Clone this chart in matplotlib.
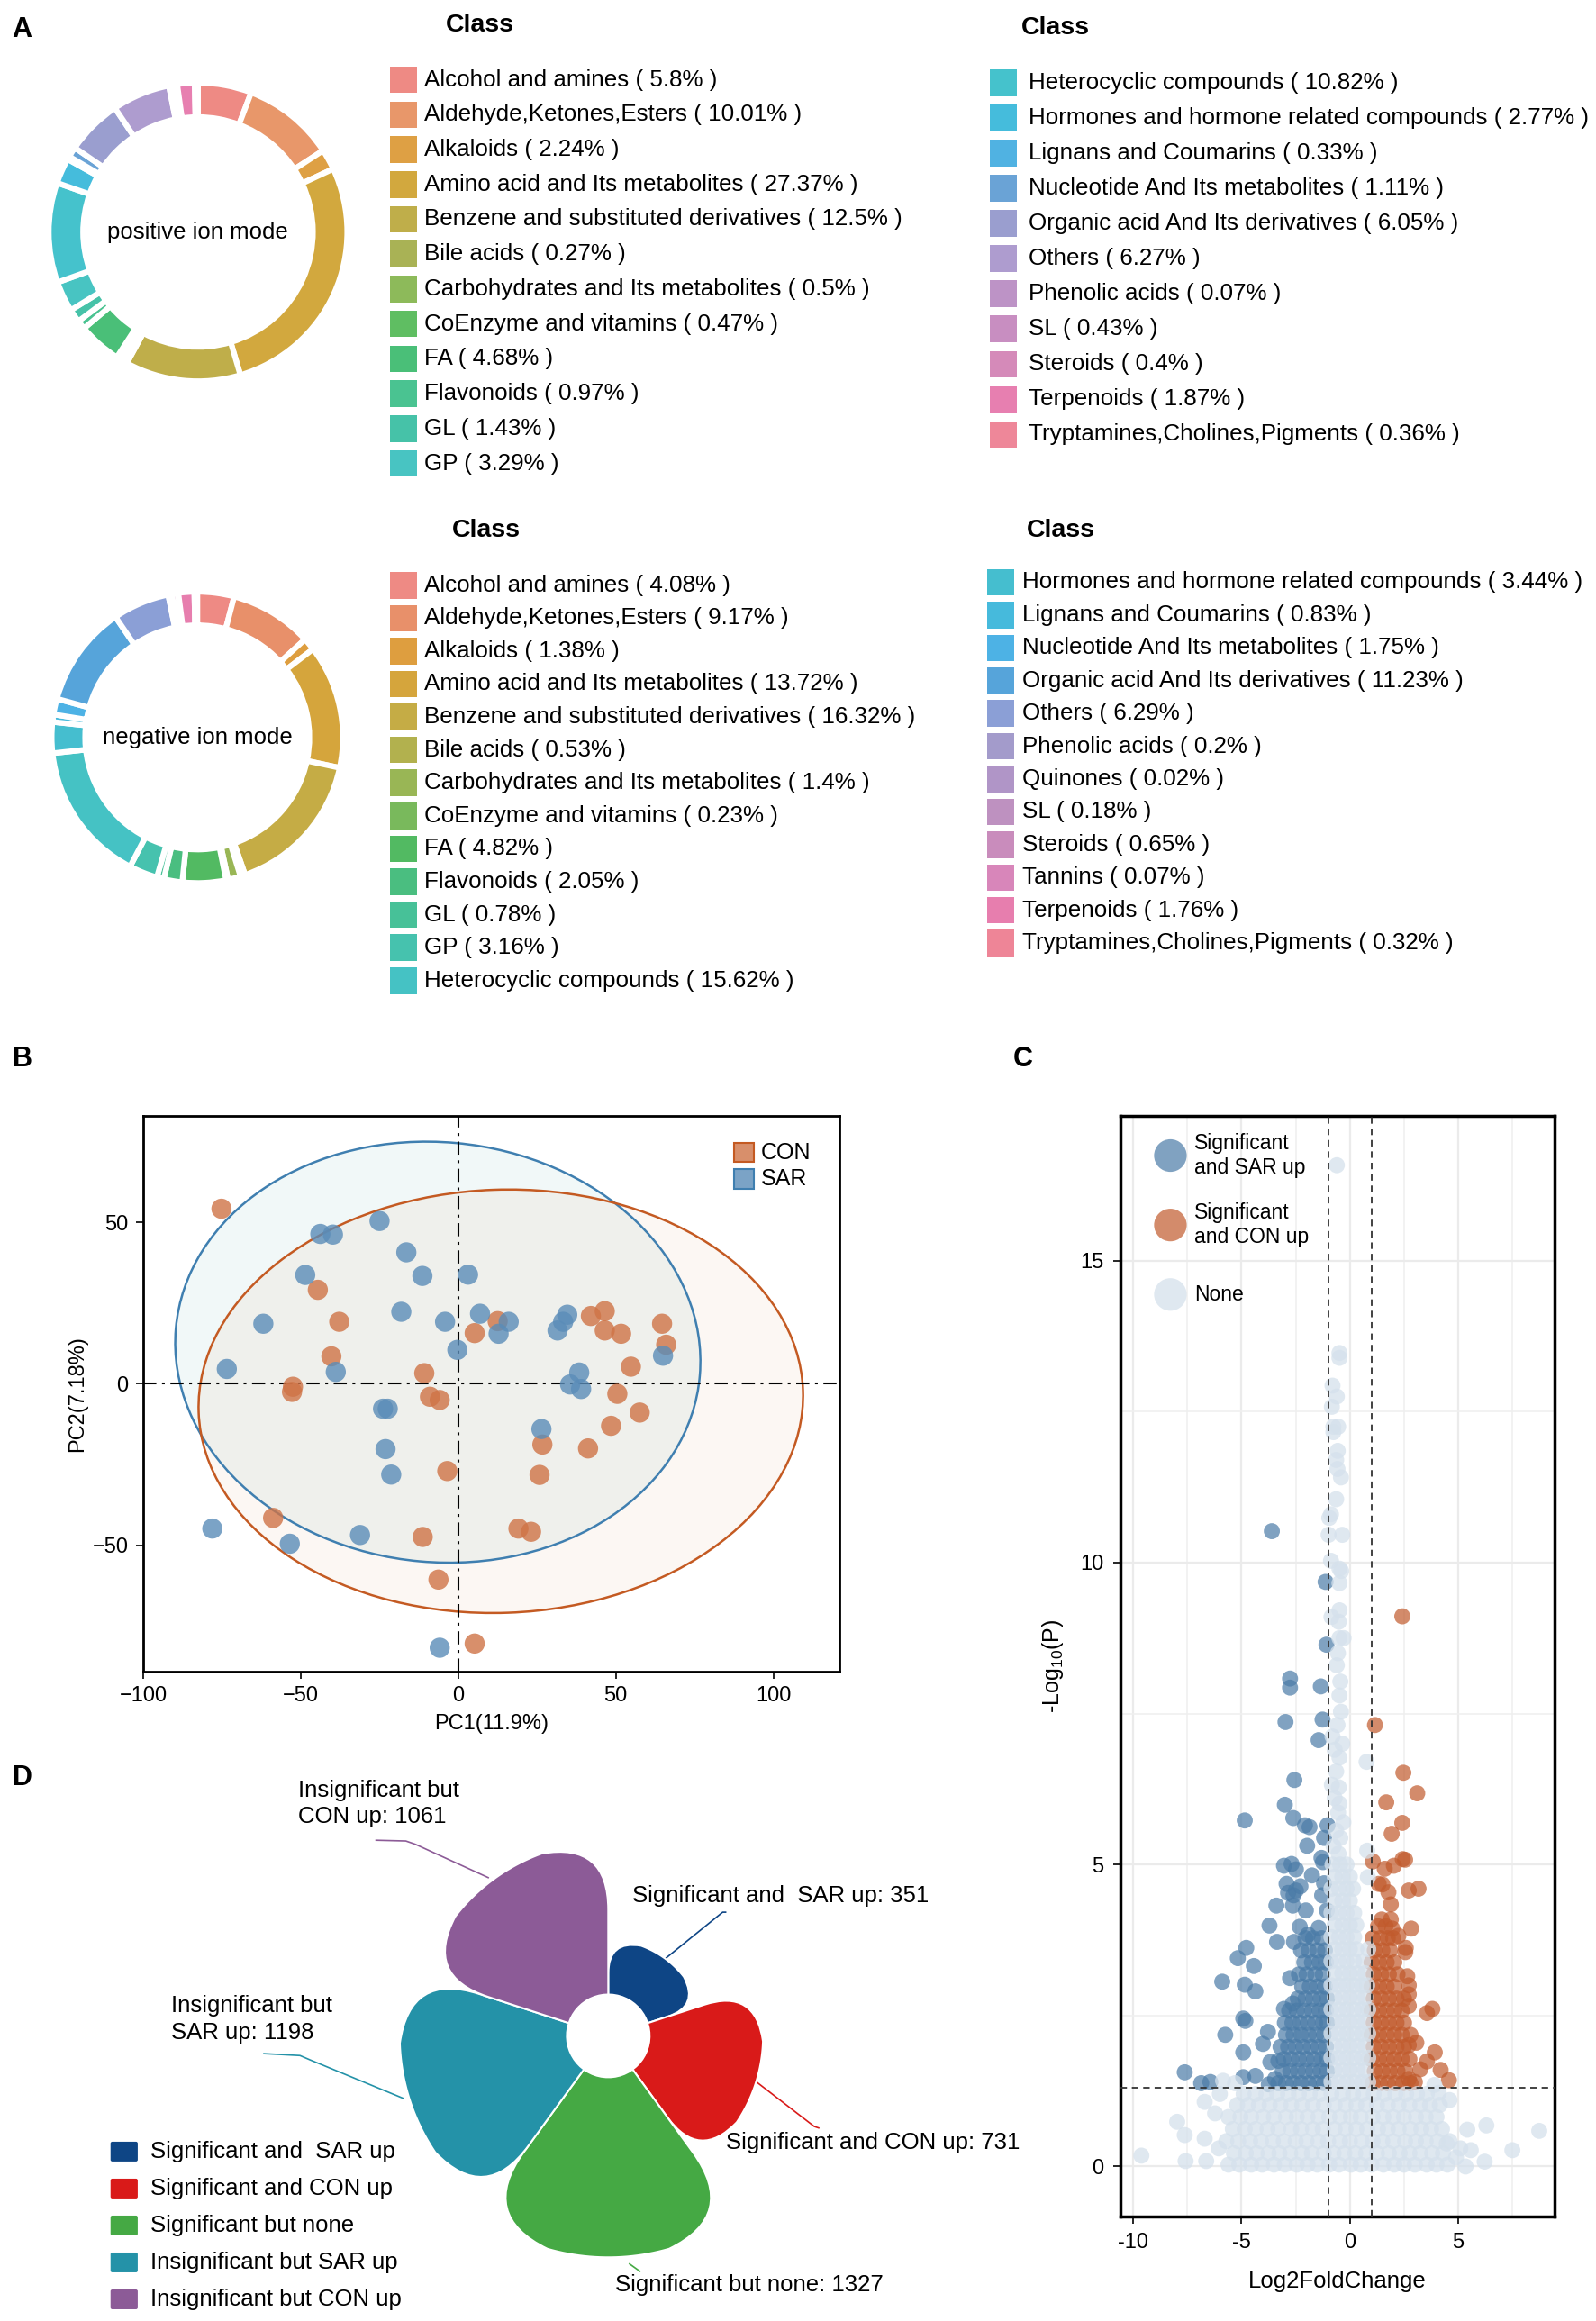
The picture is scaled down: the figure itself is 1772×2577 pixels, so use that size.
import numpy as np
import matplotlib
matplotlib.use("Agg")
import matplotlib.pyplot as plt
from matplotlib.patches import Rectangle, Ellipse, PathPatch, FancyBboxPatch
from matplotlib.path import Path
from matplotlib import font_manager

plt.rcParams['font.family'] = ['Liberation Sans', 'DejaVu Sans']

# ======================= DATA =======================
pos_classes = ["Alcohol and amines", "Aldehyde,Ketones,Esters", "Alkaloids",
               "Amino acid and Its metabolites", "Benzene and substituted derivatives",
               "Bile acids", "Carbohydrates and Its metabolites", "CoEnzyme and vitamins",
               "FA", "Flavonoids", "GL", "GP", "Heterocyclic compounds",
               "Hormones and hormone related compounds", "Lignans and Coumarins",
               "Nucleotide And Its metabolites", "Organic acid And Its derivatives",
               "Others", "Phenolic acids", "SL", "Steroids", "Terpenoids",
               "Tryptamines,Cholines,Pigments"]
pos_pct = [5.8, 10.01, 2.24, 27.37, 12.5, 0.27, 0.5, 0.47, 4.68, 0.97, 1.43, 3.29,
           10.82, 2.77, 0.33, 1.11, 6.05, 6.27, 0.07, 0.43, 0.4, 1.87, 0.36]

neg_classes = ["Alcohol and amines", "Aldehyde,Ketones,Esters", "Alkaloids",
               "Amino acid and Its metabolites", "Benzene and substituted derivatives",
               "Bile acids", "Carbohydrates and Its metabolites", "CoEnzyme and vitamins",
               "FA", "Flavonoids", "GL", "GP", "Heterocyclic compounds",
               "Hormones and hormone related compounds", "Lignans and Coumarins",
               "Nucleotide And Its metabolites", "Organic acid And Its derivatives",
               "Others", "Phenolic acids", "Quinones", "SL", "Steroids", "Tannins",
               "Terpenoids", "Tryptamines,Cholines,Pigments"]
neg_pct = [4.08, 9.17, 1.38, 13.72, 16.32, 0.53, 1.4, 0.23, 4.82, 2.05, 0.78, 3.16,
           15.62, 3.44, 0.83, 1.75, 11.23, 6.29, 0.2, 0.02, 0.18, 0.65, 0.07, 1.76, 0.32]

# PCA scores
con_x = [-75.2, -44.6, -37.8, -40.3, -52.5, -52.8, -10.8, -9.0, -5.9, -3.5, -58.8, -11.3,
         -6.3, 5.2, 5.2, 12.5, 19.1, 23.1, 25.8, 26.7, 41.2, 42.1, 46.5, 46.5, 51.7, 50.5,
         48.5, 54.8, 57.6, 64.7, 66.0]
con_y = [54.2, 29.1, 19.2, 8.5, -0.9, -2.5, 3.3, -4.0, -5.0, -27.0, -41.5, -47.4,
         -60.6, -80.4, 15.7, 19.4, -44.8, -45.8, -28.2, -18.8, -20.0, 21.0, 22.5, 16.5, 15.5, -3.1,
         -13.0, 5.3, -8.9, 18.6, 12.1]
sar_x = [-25.0, -43.8, -39.8, -16.5, -48.6, -11.4, 3.1, -18.1, -61.9, -4.2, 6.9, 16.0,
         12.8, -0.3, -73.5, -38.9, -23.9, -22.4, -23.1, -21.3, -78.1, -53.5, -31.2, -5.9,
         26.4, 31.5, 33.3, 34.6, 38.4, 35.5, 39.0, 65.0]
sar_y = [50.4, 46.4, 46.2, 40.7, 33.7, 33.4, 33.8, 22.3, 18.6, 19.2, 21.7, 19.2,
         15.5, 10.5, 4.6, 3.7, -7.7, -7.7, -20.2, -28.1, -44.8, -49.5, -46.8, -81.7,
         -14.0, 16.5, 19.2, 21.4, 3.5, -0.2, -1.6, 8.7]
# confidence ellipses: SAR, CON  (center x, center y, width, height, angle)
ell_cx = [-6.5, 13.5]
ell_cy = [9.8, -5.4]
ell_w = [167, 192]
ell_h = [130, 131]
ell_ang = [-5, 2]

# Volcano: significant & SAR up (log2FC, -log10 P)
sar_up_pts = [(-3.6, 10.52), (-1.12, 9.68), (-1.08, 8.64), (-2.76, 8.08), (-2.76, 7.93), (-1.34, 7.95),
              (-2.97, 7.36), (-1.26, 7.40), (-1.44, 7.06), (-2.56, 6.40), (-3.0, 5.99), (-4.85, 5.73),
              (-2.61, 5.77), (-2.07, 5.65), (-1.86, 5.62), (-1.03, 5.65), (-1.19, 5.44), (-1.97, 5.31),
              (-1.31, 5.11), (-1.24, 5.04), (-3.04, 4.98), (-2.69, 5.01), (-2.49, 4.92), (-1.75, 4.82),
              (-1.19, 4.69), (-2.92, 4.68), (-2.85, 4.53), (-2.49, 4.57), (-2.28, 4.64), (-2.6, 4.49),
              (-1.28, 4.49), (-3.39, 4.32), (-2.63, 4.32), (-2.03, 4.24), (-1.06, 4.24), (-3.71, 3.99),
              (-2.31, 3.97), (-3.36, 3.72), (-2.58, 3.72), (-1.44, 3.95), (-1.93, 3.84), (-4.78, 3.62),
              (-5.17, 3.45), (-4.43, 3.32), (-5.89, 3.06), (-4.85, 3.01), (-4.36, 2.9), (-2.76, 3.12),
              (-3.04, 2.61), (-2.63, 2.7), (-4.92, 2.45), (-4.82, 2.41), (-5.75, 2.18), (-3.78, 2.23),
              (-4.01, 2.03), (-4.92, 1.89), (-3.67, 1.73), (-3.3, 1.75), (-4.92, 1.48), (-4.36, 1.5),
              (-6.86, 1.38), (-6.44, 1.40), (-7.62, 1.56), (-3.74, 1.36), (-3.45, 1.45)]
sar_up_rows = [(1.38, [-3.3, -2.95, -2.6, -2.25, -1.9, -1.55, -1.2]),
               (1.58, [-3.1, -2.75, -2.4, -2.05, -1.7, -1.35, -1.05]),
               (1.78, [-3.05, -2.7, -2.35, -2.0, -1.65, -1.3, -1.05]),
               (1.98, [-3.2, -2.85, -2.5, -2.15, -1.8, -1.45, -1.1]),
               (2.18, [-2.95, -2.6, -2.25, -1.9, -1.55, -1.2]),
               (2.38, [-3.0, -2.65, -2.3, -1.95, -1.6, -1.25, -1.05]),
               (2.58, [-2.8, -2.45, -2.1, -1.75, -1.4, -1.1]),
               (2.78, [-2.4, -2.05, -1.7, -1.35, -1.05]),
               (2.98, [-2.2, -1.85, -1.5, -1.15]),
               (3.18, [-2.35, -2.0, -1.6, -1.25]),
               (3.38, [-2.1, -1.75, -1.4, -1.1]),
               (3.58, [-2.25, -1.9, -1.5, -1.15]),
               (3.78, [-2.05, -1.7, -1.3])]

# Volcano: significant & CON up
con_up_pts = [(2.42, 9.11), (1.16, 7.31), (2.47, 6.52), (3.11, 6.18), (1.68, 6.03), (2.42, 5.69),
              (1.93, 5.51), (1.06, 5.05), (1.61, 4.93), (2.03, 4.98), (2.44, 5.09), (2.55, 5.08),
              (1.33, 4.68), (1.5, 4.67), (1.78, 4.54), (2.72, 4.57), (3.17, 4.6), (1.89, 4.34),
              (1.47, 4.09), (1.89, 4.09), (2.83, 3.94), (1.96, 3.94), (2.24, 3.82), (2.58, 3.62),
              (2.56, 3.55), (2.65, 3.15), (2.72, 3.0), (2.72, 2.85), (2.72, 2.66), (3.56, 2.54),
              (3.81, 2.61), (3.07, 2.05), (2.72, 2.01), (3.92, 1.89), (3.56, 1.74), (3.25, 1.61),
              (4.19, 1.6), (4.57, 1.43), (2.72, 1.45), (3.0, 1.4)]
con_up_rows = [(1.38, [1.05, 1.4, 1.75, 2.1, 2.45, 2.8]),
               (1.58, [1.15, 1.5, 1.85, 2.2, 2.55]),
               (1.78, [1.0, 1.35, 1.7, 2.05, 2.4, 2.75]),
               (1.98, [1.1, 1.45, 1.8, 2.15, 2.5]),
               (2.18, [1.0, 1.35, 1.7, 2.05, 2.4, 2.8]),
               (2.38, [1.1, 1.45, 1.8, 2.15, 2.5]),
               (2.58, [1.0, 1.35, 1.7, 2.05, 2.4]),
               (2.78, [1.1, 1.45, 1.8, 2.15, 2.5]),
               (2.98, [1.0, 1.35, 1.7, 2.05]),
               (3.18, [1.1, 1.45, 1.8, 2.2]),
               (3.38, [1.0, 1.35, 1.7, 2.05]),
               (3.58, [1.15, 1.5, 1.85]),
               (3.78, [1.05, 1.4, 1.75, 2.0]),
               (3.98, [1.3, 1.65])]

# Volcano: not significant
none_pts = [(-0.6, 16.58), (-0.48, 13.47), (-0.48, 13.39), (-0.8, 12.93), (-0.6, 12.75), (-0.83, 12.58),
            (-0.76, 12.25), (-0.54, 12.25), (-0.76, 12.16), (-0.56, 11.85), (-0.63, 11.7), (-0.57, 11.55),
            (-0.41, 11.41), (-0.63, 11.05), (-0.87, 10.8), (-0.95, 10.74), (-0.98, 10.46), (-0.35, 10.46),
            (-0.87, 10.03), (-0.48, 9.9), (-0.4, 9.86), (-0.48, 9.66), (-0.48, 9.21), (-0.51, 9.02),
            (-0.48, 8.75), (-0.29, 8.75), (-0.85, 9.1), (-0.6, 8.3), (-0.55, 8.5), (-0.44, 8.03),
            (-0.48, 7.8), (-0.41, 7.53), (-0.57, 7.31), (-0.8, 7.12), (-0.35, 7.0), (-0.7, 6.9),
            (-0.48, 6.77), (-0.63, 6.54), (-0.83, 6.32), (-0.51, 6.28), (0.77, 6.7), (-0.7, 6.1),
            (-0.48, 6.01), (-0.54, 5.86), (-0.3, 5.7), (-0.63, 5.56), (-0.44, 5.44), (-0.75, 5.3),
            (0.8, 5.23), (-0.52, 5.18), (0.83, 4.79),
            (-9.62, 0.18), (-7.97, 0.74), (-7.62, 0.52), (-7.58, 0.09), (-6.7, 1.07), (-6.7, 0.46),
            (-6.63, 0.09), (-6.22, 0.88), (-6.05, 0.3), (-6.0, 1.2), (-5.85, 1.42), (-5.3, 1.38),
            (4.9, 0.15), (5.1, 0.3), (5.34, 0.0), (5.42, 0.61), (5.58, 0.27), (6.22, 0.08),
            (6.3, 0.68), (7.5, 0.27), (8.74, 0.59), (4.47, 0.38), (4.6, 1.1), (3.9, 1.35), (4.1, 1.22)]
none_rows = [(0.03, [-5.6, -5.1, -4.55, -4.05, -3.5, -3.0, -2.45, -1.95, -1.5, -0.95, -0.5, 0.05, 0.5,
                     1.0, 1.55, 2.05, 2.5, 3.0, 3.55, 4.0, 4.5]),
             (0.22, [-5.35, -4.8, -4.3, -3.75, -3.25, -2.75, -2.2, -1.75, -1.2, -0.75, -0.25, 0.25, 0.75,
                     1.25, 1.8, 2.3, 2.75, 3.25, 3.8, 4.3]),
             (0.42, [-5.7, -5.15, -4.6, -4.1, -3.55, -3.05, -2.5, -2.0, -1.45, -1.0, -0.45, 0.0, 0.55,
                     1.05, 1.5, 2.0, 2.55, 3.05, 3.5, 4.05, 4.6]),
             (0.62, [-5.4, -4.85, -4.35, -3.8, -3.3, -2.7, -2.25, -1.7, -1.25, -0.7, -0.2, 0.3, 0.8,
                     1.3, 1.75, 2.25, 2.8, 3.3, 3.75, 4.25]),
             (0.82, [-5.6, -5.05, -4.55, -4.0, -3.5, -2.95, -2.45, -1.95, -1.45, -0.95, -0.45, 0.05, 0.5,
                     1.05, 1.55, 2.0, 2.5, 3.05, 3.5, 4.0]),
             (1.02, [-5.2, -4.7, -4.2, -3.7, -3.2, -2.7, -2.2, -1.7, -1.2, -0.7, -0.2, 0.3, 0.75,
                     1.25, 1.75, 2.25, 2.75, 3.25, 3.7, 4.15]),
             (1.2, [-4.9, -4.35, -3.85, -3.35, -2.85, -2.35, -1.85, -1.35, -0.85, -0.35, 0.15, 0.6,
                    1.1, 1.6, 2.1, 2.6, 3.1, 3.55]),
             (1.4, [-0.85, -0.5, -0.15, 0.2, 0.55, 0.85]),
             (1.6, [-0.7, -0.35, 0.0, 0.35, 0.7]),
             (1.8, [-0.85, -0.5, -0.15, 0.2, 0.55, 0.85]),
             (2.0, [-0.7, -0.35, 0.0, 0.35, 0.7]),
             (2.2, [-0.85, -0.5, -0.15, 0.2, 0.55, 0.85]),
             (2.4, [-0.7, -0.35, 0.0, 0.35, 0.7]),
             (2.6, [-0.85, -0.5, -0.15, 0.2, 0.55, 0.85]),
             (2.8, [-0.7, -0.35, 0.0, 0.35, 0.7]),
             (3.0, [-0.85, -0.5, -0.15, 0.2, 0.55, 0.8]),
             (3.2, [-0.7, -0.35, 0.0, 0.35, 0.7]),
             (3.4, [-0.85, -0.5, -0.15, 0.2, 0.6]),
             (3.6, [-0.7, -0.35, 0.0, 0.3, 0.85]),
             (3.8, [-0.85, -0.5, -0.15, 0.2]),
             (4.0, [-0.7, -0.35, 0.0, 0.3]),
             (4.2, [-0.85, -0.5, -0.15, 0.2]),
             (4.4, [-0.7, -0.35, 0.0]),
             (4.6, [-0.85, -0.5, -0.15, 0.15]),
             (4.8, [-0.7, -0.35, 0.0]),
             (5.0, [-0.8, -0.45, -0.15])]

volc_xticks = [-10, -5, 0, 5]
volc_xticklabels = ['-10', '-5', '0', '5']
volc_yticks = [0, 5, 10, 15]
fc_cut = 1.0
p_cut = 1.301

# Flower (rose) chart
flower_labels = ["Significant and  SAR up", "Significant and CON up", "Significant but none",
                 "Insignificant but SAR up", "Insignificant but CON up"]
flower_values = [351, 731, 1327, 1198, 1061]

# ======================= STYLE =======================
pos_colors = ['#EE8A84', '#E8976A', '#DEA044', '#D2A83E', '#BFAE4A', '#A9B255', '#8DBA5A', '#5FBE62',
              '#4ABF78', '#4AC391', '#46C2A8', '#48C4C2', '#45C2CC', '#45BCDC', '#50B2E2', '#6AA3D6',
              '#9A9ECF', '#AE9CCF', '#BD93C6', '#C88EC1', '#D58AB9', '#E77FB0', '#EE8799']
neg_colors = ['#EE8A84', '#E8906A', '#DE9E3F', '#D5A53C', '#C5AC45', '#B2B14E', '#99B655', '#79B95C',
              '#52BA62', '#4ABE80', '#47C198', '#46C2AE', '#45C2C4', '#45BECF', '#46BADC', '#4DB2E5',
              '#56A4DA', '#8B9FD6', '#A39BCB', '#B095C7', '#BE91C0', '#C98CBC', '#D886BA', '#E77EAE',
              '#EE8597']
flower_colors = ['#0E4585', '#D91A19', '#45A944', '#2492A8', '#8C5B97']

names = {f.name for f in font_manager.fontManager.ttflist}
if 'Liberation Sans Narrow' in names:
    NARROW = dict(family='Liberation Sans Narrow', fontsize=21)
else:
    NARROW = dict(family='Liberation Sans', fontsize=18.5)

W = 1080.0
H = 1080.0 * 2577 / 1772

fig = plt.figure(figsize=(17.72, 25.77), dpi=100)
ov = fig.add_axes([0, 0, 1, 1])
ov.set_xlim(0, W)
ov.set_ylim(H, 0)
ov.axis('off')


def frect(x0, y0, x1, y1):
    return [x0 / W, 1 - y1 / H, (x1 - x0) / W, (y1 - y0) / H]


# panel letters
for lab, (lx, ly) in zip("ABCD", [(15, 20), (15, 717), (692, 717), (15, 1203)]):
    ov.text(lx, ly, lab, fontsize=22, fontweight='bold', ha='center', va='center')

# ======================= PANEL A =======================
def donut(box, pct, colors, label):
    ax = fig.add_axes(frect(*box))
    ax.pie(pct, colors=colors, startangle=90, counterclock=False, radius=1.0,
           wedgeprops=dict(width=0.23, edgecolor='white', linewidth=4.5))
    ax.set_xlim(-1.02, 1.02)
    ax.set_ylim(-1.02, 1.02)
    ax.set_aspect('auto')
    ax.text(0, 0, label, ha='center', va='center', fontsize=18.5)


donut((31, 54, 237, 260), pos_pct, pos_colors, 'positive ion mode')
donut((33, 398.5, 234, 599.5), neg_pct, neg_colors, 'negative ion mode')


def class_legend(names_, pcts, colors, x_sq, x_txt, y0, dy, title_xy):
    for i, (n, p, c) in enumerate(zip(names_, pcts, colors)):
        y = y0 + i * dy
        ov.add_patch(Rectangle((x_sq, y - 9), 18, 18, facecolor=c, edgecolor='none'))
        ov.text(x_txt, y, f"{n} ( {p:g}% )", va='center', ha='left', fontsize=18.7)
    ov.text(title_xy[0], title_xy[1], 'Class', ha='center', va='center', fontsize=20.5,
            fontweight='bold')


class_legend(pos_classes[:12], pos_pct[:12], pos_colors[:12], 264, 287, 54, 23.6, (325, 17))
class_legend(pos_classes[12:], pos_pct[12:], pos_colors[12:], 670, 696, 56, 23.8, (714, 19))
class_legend(neg_classes[:13], neg_pct[:13], neg_colors[:13], 264, 287, 396, 22.3, (329, 359))
class_legend(neg_classes[13:], neg_pct[13:], neg_colors[13:], 668, 692, 394, 22.2, (718, 359))

# ======================= PANEL B (PCA) =======================
axB = fig.add_axes(frect(97, 755, 568, 1131))
CON_PT, SAR_PT = '#CF7346', '#5A8CB8'
CON_LN, SAR_LN = '#C45A22', '#3F7FB0'
fills = ['#3FA0A0', '#D2691E']
fill_alpha = [0.07, 0.05]
edges = [SAR_LN, CON_LN]
for i in range(2):
    axB.add_patch(Ellipse((ell_cx[i], ell_cy[i]), ell_w[i], ell_h[i], angle=ell_ang[i],
                          facecolor=fills[i], alpha=fill_alpha[i], edgecolor='none', zorder=1))
for i in range(2):
    axB.add_patch(Ellipse((ell_cx[i], ell_cy[i]), ell_w[i], ell_h[i], angle=ell_ang[i],
                          facecolor='none', edgecolor=edges[i], lw=1.8, zorder=2))
axB.axhline(0, color='black', lw=1.5, ls=(0, (7, 3, 1.5, 3)), zorder=2)
axB.axvline(0, color='black', lw=1.5, ls=(0, (7, 3, 1.5, 3)), zorder=2)
axB.scatter(con_x, con_y, s=260, color=CON_PT, alpha=0.8, edgecolors='none', zorder=3)
axB.scatter(sar_x, sar_y, s=260, color=SAR_PT, alpha=0.8, edgecolors='none', zorder=3)
axB.set_xlim(-100, 121)
axB.set_ylim(-89, 83)
axB.set_xticks([-100, -50, 0, 50, 100])
axB.set_yticks([-50, 0, 50])
axB.tick_params(direction='out', length=6, width=1.2, labelsize=17, pad=6)
for sp in axB.spines.values():
    sp.set_linewidth(2)
axB.set_xlabel('PC1(11.9%)', fontsize=17, labelpad=6)
axB.set_ylabel('PC2(7.18%)', fontsize=17, labelpad=4)
# legend
for lab, yy, pc, lc in [('CON', 0.9335, CON_PT, CON_LN), ('SAR', 0.886, SAR_PT, SAR_LN)]:
    axB.add_patch(Rectangle((0.849, yy - 0.0173), 0.0276, 0.0346, transform=axB.transAxes,
                            facecolor=pc, alpha=0.8, edgecolor='none', zorder=4))
    axB.add_patch(Rectangle((0.849, yy - 0.0173), 0.0276, 0.0346, transform=axB.transAxes,
                            facecolor='none', edgecolor=lc, lw=1.5, zorder=5))
    axB.text(0.8875, yy, lab, transform=axB.transAxes, fontsize=18, va='center', ha='left')

# ======================= PANEL C (volcano) =======================
axC = fig.add_axes(frect(758, 755, 1052, 1500))


def expand(pts, rows):
    xs = [p[0] for p in pts]
    ys = [p[1] for p in pts]
    for yv, xr in rows:
        xs += list(xr)
        ys += [yv] * len(xr)
    return xs, ys


SAR_C, CON_C, NONE_C = '#4A7BA7', '#C15A2C', '#D5E1EC'
MS = 165
sx, sy = expand(sar_up_pts, sar_up_rows)
cx_, cy_ = expand(con_up_pts, con_up_rows)
nx, ny = expand(none_pts, none_rows)
axC.scatter(sx, sy, s=MS, color=SAR_C, alpha=0.7, edgecolors='none', zorder=2)
axC.scatter(cx_, cy_, s=MS, color=CON_C, alpha=0.7, edgecolors='none', zorder=2)
axC.scatter(nx, ny, s=MS, color=NONE_C, alpha=0.75, edgecolors='none', zorder=3)
axC.axvline(-fc_cut, color='#333333', lw=1.3, ls=(0, (4, 3)), zorder=4)
axC.axvline(fc_cut, color='#333333', lw=1.3, ls=(0, (4, 3)), zorder=4)
axC.axhline(p_cut, color='#333333', lw=1.3, ls=(0, (4, 3)), zorder=4)
axC.set_xlim(-10.6, 9.45)
axC.set_ylim(-0.83, 17.4)
axC.set_xticks(volc_xticks)
axC.set_xticklabels(volc_xticklabels)
axC.set_yticks(volc_yticks)
axC.set_xticks([-7.5, -2.5, 2.5, 7.5], minor=True)
axC.set_yticks([2.5, 7.5, 12.5], minor=True)
axC.tick_params(which='minor', length=0)
axC.tick_params(which='major', direction='out', length=6, width=1.2, labelsize=17, pad=7)
axC.set_axisbelow(True)
axC.grid(which='major', color='#EBEBEB', lw=1.6)
axC.grid(which='minor', color='#EFEFEF', lw=1.1)
for sp in axC.spines.values():
    sp.set_linewidth(2.5)
axC.set_xlabel('Log2FoldChange', fontsize=18.5, labelpad=14)
axC.set_ylabel(r'-Log$_{\mathregular{10}}$(P)', fontsize=18, labelpad=12)
for lab, yy, col, a in [('Significant\nand SAR up', 0.9638, SAR_C, 0.7),
                        ('Significant\nand CON up', 0.9007, CON_C, 0.7),
                        ('None', 0.8376, NONE_C, 0.75)]:
    axC.scatter([0.1156], [yy], s=680, color=col, alpha=a, edgecolors='none',
                transform=axC.transAxes, zorder=5, clip_on=False)
    axC.text(0.17, yy, lab, transform=axC.transAxes, fontsize=16.5, va='center', ha='left',
             linespacing=1.2, zorder=5)

# ======================= PANEL D (rose) =======================
FX, FY, R0 = 411.6, 1377.7, 28.0


def P(r, t):
    a = np.radians(t)
    return (FX + r * np.sin(a), FY - r * np.cos(a))


def petal_path(R, t0, t1, c):
    dtc = np.degrees(c / R)
    verts, codes = [P(R0, t0), P(R - c, t0)], [Path.MOVETO, Path.LINETO]
    verts += [P(R, t0), P(R, t0 + dtc)]
    codes += [Path.CURVE3, Path.CURVE3]
    for t in np.linspace(t0 + dtc, t1 - dtc, 24)[1:]:
        verts.append(P(R, t))
        codes.append(Path.LINETO)
    verts += [P(R, t1), P(R - c, t1)]
    codes += [Path.CURVE3, Path.CURVE3]
    verts.append(P(R0, t1))
    codes.append(Path.LINETO)
    for t in np.linspace(t1, t0, 12)[1:]:
        verts.append(P(R0, t))
        codes.append(Path.LINETO)
    verts.append(P(R0, t0))
    codes.append(Path.CLOSEPOLY)
    return Path(verts, codes)


step = 360.0 / len(flower_values)
for i, (v, col) in enumerate(zip(flower_values, flower_colors)):
    R = 4.8 * np.sqrt(v) - 25
    ov.add_patch(PathPatch(petal_path(R, i * step, (i + 1) * step, 0.35 * R),
                           facecolor=col, edgecolor='white', lw=1.5, zorder=2))

# leader lines and labels
leaders = [([491, 489, 450.7], [1294, 1294, 1325], flower_colors[0]),
           ([509, 551, 554], [1406.6, 1439, 1440], flower_colors[1]),
           ([426, 433], [1532, 1537], flower_colors[2]),
           ([178.6, 203, 210, 273], [1389.7, 1391, 1394, 1420], flower_colors[3]),
           ([254.5, 274.6, 281, 330.4], [1245.3, 1245.8, 1248, 1270.6], flower_colors[4])]
for xs_, ys_, col in leaders:
    ov.plot(xs_, ys_, color=col, lw=1.2, zorder=1)
lab_pos = [(428, 1283), (491, 1450), (416, 1546), (116, 1366.5), (202, 1220.5)]
lab_txt = [f"{flower_labels[0]}: {flower_values[0]}", f"{flower_labels[1]}: {flower_values[1]}",
           f"{flower_labels[2]}: {flower_values[2]}",
           f"Insignificant but\nSAR up: {flower_values[3]}",
           f"Insignificant but\nCON up: {flower_values[4]}"]
for (tx, ty), t in zip(lab_pos, lab_txt):
    ov.text(tx, ty, t, ha='left', va='center', linespacing=1.3, **NARROW)

for i, (lab, col) in enumerate(zip(flower_labels, flower_colors)):
    y = 1456 + 25 * i
    ov.add_patch(FancyBboxPatch((76, y - 5.5), 16, 11, boxstyle='round,pad=1.2',
                                facecolor=col, edgecolor='none'))
    ov.text(102, y, lab, ha='left', va='center', **NARROW)

fig.savefig('out.png', dpi=100)
